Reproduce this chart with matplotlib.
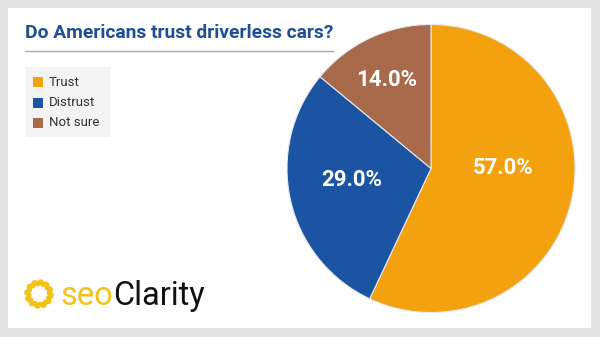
import numpy as np
import matplotlib
matplotlib.use('Agg')
import matplotlib.pyplot as plt
from matplotlib.patches import Rectangle

# data
labels = ['Trust', 'Distrust', 'Not sure']
shares = [57.0, 29.0, 14.0]
colors = ['#F3A10F', '#1B54A3', '#A9694B']
title = 'Do Americans trust driverless cars?'

W, H = 600, 337
fig = plt.figure(figsize=(W / 100, H / 100), dpi=100)
fig.patch.set_facecolor('#E4E4E4')

# white card
bg = fig.add_axes([0, 0, 1, 1])
bg.set_xlim(0, W)
bg.set_ylim(H, 0)
bg.axis('off')
bg.add_patch(Rectangle((8, 8), 583, 320, facecolor='white', edgecolor='none'))

font = ['Roboto', 'DejaVu Sans']

# title + rule
bg.text(25, 33, title, fontsize=13.9, fontweight='bold', color='#1F4E96',
        family=font, va='center', ha='left')
bg.plot([25, 333], [51, 51], color='#A8A8A8', lw=1)

# legend box
bg.add_patch(Rectangle((26, 67), 84, 70, facecolor='#F3F3F3', edgecolor='none'))
for i, (lab, c) in enumerate(zip(labels, colors)):
    y = 82 + i * 20.5
    bg.add_patch(Rectangle((33, y - 5), 10, 10, facecolor=c, edgecolor='none'))
    bg.text(49, y, lab, fontsize=9.5, color='#333333', family=font,
            va='center', ha='left')

# logo: wavy sun ring + wordmark
cx, cy = 39, 294
th = np.linspace(0, 2 * np.pi, 400)
rr = 11.3 + 1.4 * np.sin(12 * th)
bg.plot(cx + rr * np.cos(th), cy + rr * np.sin(th), color='#F2C21B', lw=3.2,
        solid_joinstyle='round')
t1 = bg.text(60, 305, 'seo', fontsize=23.5, color='#F2C21B',
             family=font, va='baseline', ha='left')
fig.canvas.draw()
bb = t1.get_window_extent()
bg.text(60 + bb.width, 305, 'Clarity', fontsize=23.5, color='#111111',
        family=font, va='baseline', ha='left')

# pie
r = 144
pcx, pcy = 431, 168.5
ax = fig.add_axes([(pcx - r) / W, (H - pcy - r) / H, 2 * r / W, 2 * r / H])
wedges, texts, autotexts = ax.pie(shares, colors=colors, startangle=90, counterclock=False,
                                  autopct='%.1f%%', pctdistance=0.6,
                                  wedgeprops=dict(edgecolor='#E8E8E8', linewidth=0.8))
ax.set_aspect('auto')
ax.set_xlim(-1, 1)
ax.set_ylim(-1, 1)
label_pos = [(0.5, 0.0), (-0.55, -0.08), (-0.31, 0.615)]
for t, p in zip(autotexts, label_pos):
    t.set_position(p)
    t.set_color('white')
    t.set_fontsize(16)
    t.set_fontweight('bold')
    t.set_family(font)
    t.set_ha('center')
    t.set_va('center')

fig.savefig('out.png', dpi=100, facecolor=fig.get_facecolor())
